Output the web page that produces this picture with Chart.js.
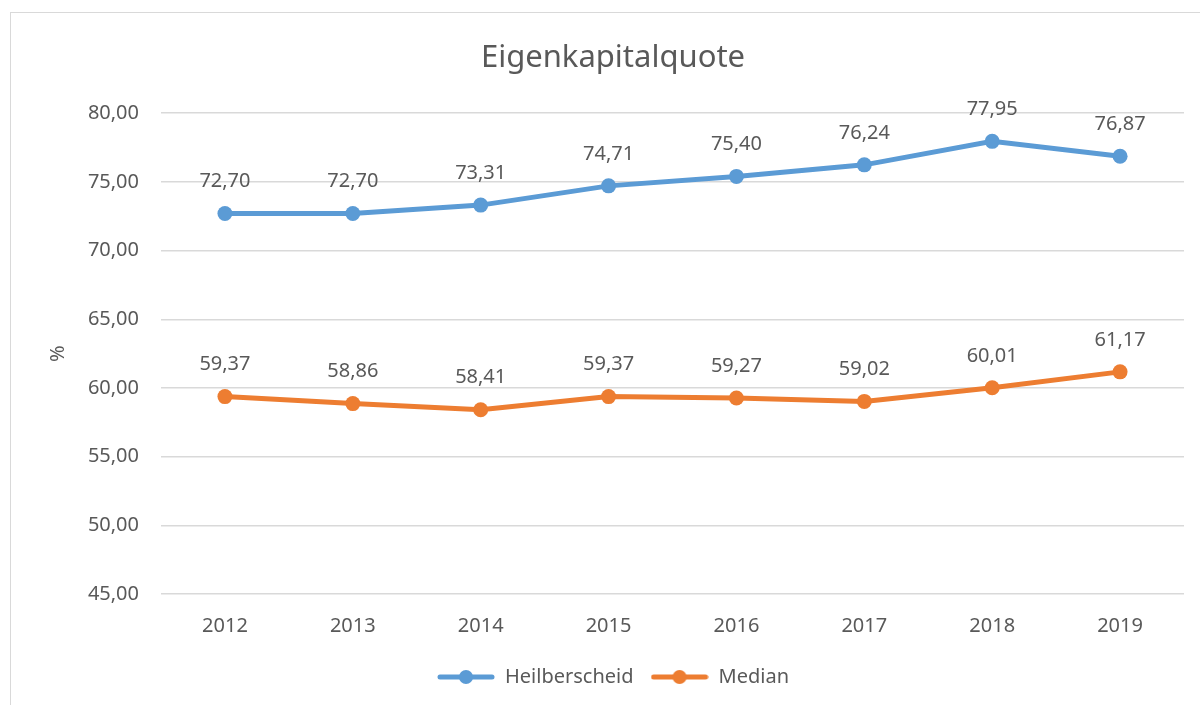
<!DOCTYPE html>
<html>
<head>
<meta charset="utf-8">
<script src="https://cdn.jsdelivr.net/npm/chart.js@4.4.0/dist/chart.umd.min.js"></script>
<style>
  html, body { margin: 0; padding: 0; background: #fff; overflow: hidden; }
  #frame { position: absolute; left: 10px; top: 12px; width: 1400px; height: 900px; border: 1px solid #d9d9d9; }
  #wrap { position: absolute; left: 0; top: 0; width: 1200px; height: 705px; }
</style>
</head>
<body>
<div id="frame"></div>
<div id="wrap"><canvas id="c" width="1200" height="705"></canvas></div>
<script>
// values
const years = ['2012', '2013', '2014', '2015', '2016', '2017', '2018', '2019']
const heilberscheid = [72.70, 72.70, 73.31, 74.71, 75.40, 76.24, 77.95, 76.87]
const median = [59.37, 58.86, 58.41, 59.37, 59.27, 59.02, 60.01, 61.17]
const yTicks = [45, 50, 55, 60, 65, 70, 75, 80]

const grey = '#595959'
const blue = '#5B9BD5'
const orange = '#ED7D31'
const fontFam = "'Noto Sans', 'Open Sans', sans-serif"

const fmt = v => v.toFixed(2).replace('.', ',')

// little line + dot picture for the legend entries
function legendMark(color) {
  const cv = document.createElement('canvas')
  cv.width = 58
  cv.height = 16
  const g = cv.getContext('2d')
  g.strokeStyle = color
  g.lineWidth = 5
  g.lineCap = 'round'
  g.beginPath()
  g.moveTo(3, 8)
  g.lineTo(55, 8)
  g.stroke()
  g.fillStyle = color
  g.beginPath()
  g.arc(29, 8, 7, 0, Math.PI * 2)
  g.fill()
  return cv
}

const valueLabels = {
  id: 'valueLabels',
  afterDatasetsDraw(chart) {
    const ctx = chart.ctx
    ctx.save()
    ctx.font = '20px ' + fontFam
    ctx.fillStyle = grey
    ctx.textAlign = 'center'
    ctx.textBaseline = 'middle'
    chart.data.datasets.forEach((ds, i) => {
      chart.getDatasetMeta(i).data.forEach((pt, j) => {
        ctx.fillText(fmt(ds.data[j]), pt.x, pt.y - 32)
      })
    })
    ctx.restore()
  }
}

new Chart(document.getElementById('c'), {
  type: 'line',
  data: {
    labels: years,
    datasets: [{
      label: 'Heilberscheid',
      data: heilberscheid,
      borderColor: blue,
      backgroundColor: blue,
      borderWidth: 5,
      pointRadius: 7.5,
      pointHoverRadius: 7.5,
      pointBorderWidth: 0,
      tension: 0
    }, {
      label: 'Median',
      data: median,
      borderColor: orange,
      backgroundColor: orange,
      borderWidth: 5,
      pointRadius: 7.5,
      pointHoverRadius: 7.5,
      pointBorderWidth: 0,
      tension: 0
    }]
  },
  options: {
    responsive: false,
    animation: false,
    layout: { padding: { left: 42, right: 16, top: 0, bottom: 8 } },
    scales: {
      x: {
        offset: true,
        grid: { display: false },
        border: { display: false },
        ticks: { color: grey, font: { family: fontFam, size: 20 }, padding: 12, maxRotation: 0 }
      },
      y: {
        min: 45,
        max: 80,
        afterBuildTicks: s => { s.ticks = yTicks.map(v => ({ value: v })) },
        afterFit: s => { s.width = 119 },
        grid: { color: '#d9d9d9', lineWidth: 1.5, drawTicks: false },
        border: { display: false },
        ticks: { color: grey, font: { family: fontFam, size: 20 }, padding: 22, callback: v => fmt(v) },
        title: { display: true, text: '%', color: grey, font: { family: fontFam, size: 20 }, padding: 4 }
      }
    },
    plugins: {
      title: {
        display: true,
        text: 'Eigenkapitalquote',
        color: grey,
        font: { family: fontFam, size: 31, weight: 'normal' },
        padding: { top: 40, bottom: 36 }
      },
      legend: {
        position: 'bottom',
        labels: {
          color: grey,
          font: { family: fontFam, size: 20 },
          usePointStyle: true,
          pointStyleWidth: 58,
          padding: 17,
          generateLabels: chart => Chart.defaults.plugins.legend.labels.generateLabels(chart).map(l => {
            l.pointStyle = legendMark(chart.data.datasets[l.datasetIndex].borderColor)
            return l
          })
        }
      },
      tooltip: { enabled: false }
    }
  },
  plugins: [valueLabels]
})
</script>
</body>
</html>
